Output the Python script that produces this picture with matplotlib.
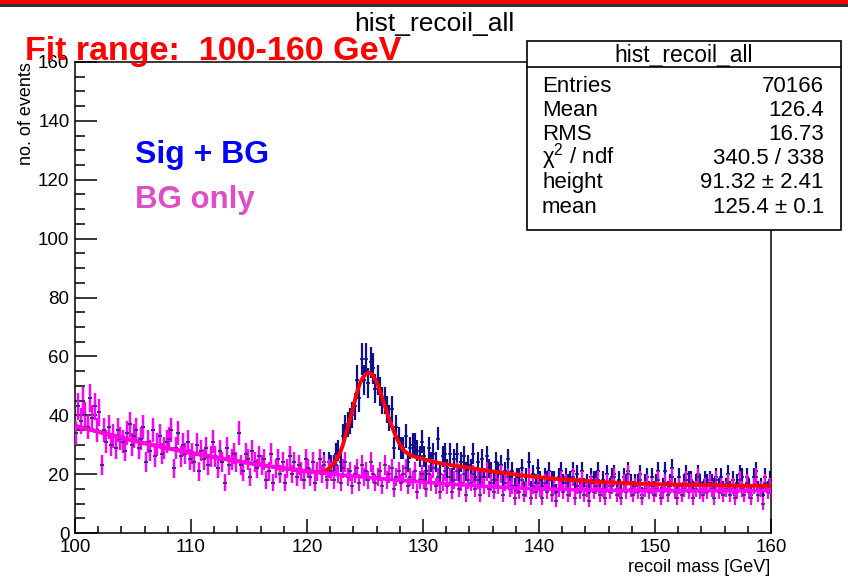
import matplotlib
matplotlib.use("Agg")
import matplotlib.pyplot as plt
from matplotlib.patches import Rectangle
from matplotlib.lines import Line2D
from matplotlib.ticker import MultipleLocator
import numpy as np

plt.rcParams['font.family'] = ['Liberation Sans', 'DejaVu Sans']
plt.rcParams['mathtext.fontset'] = 'custom'
plt.rcParams['mathtext.rm'] = 'Liberation Sans'
plt.rcParams['mathtext.it'] = 'Liberation Sans:italic'

# histogram binning: 300 bins of 0.2 GeV
bin_edges = np.linspace(100, 160, 301)

bg_counts = [
    34, 43, 38, 45, 40, 36, 46, 39, 43, 35,
    41, 23, 35, 31, 36, 30, 33, 29, 35, 32,
    31, 28, 34, 37, 30, 33, 35, 29, 32, 36,
    24, 31, 28, 35, 26, 30, 33, 27, 29, 31,
    32, 35, 22, 29, 34, 26, 30, 27, 31, 25,
    27, 24, 30, 21, 28, 25, 29, 23, 26, 31,
    26, 22, 28, 24, 17, 29, 23, 25, 27, 24,
    34, 23, 21, 27, 25, 19, 28, 24, 22, 26,
    23, 25, 18, 21, 27, 17, 22, 25, 20, 24,
    17, 22, 26, 20, 24, 19, 23, 21, 18, 25,
    22, 19, 24, 17, 21, 25, 20, 23, 18, 22,
    21, 18, 23, 20, 17, 22, 24, 19, 21, 16,
    20, 22, 17, 23, 19, 21, 18, 24, 20, 17,
    19, 21, 16, 23, 18, 20, 22, 15, 19, 21,
    17, 20, 22, 16, 19, 18, 21, 14, 18, 20,
    18, 15, 20, 17, 22, 16, 19, 14, 17, 21,
    16, 19, 14, 18, 21, 15, 17, 20, 13, 18,
    17, 20, 15, 18, 13, 19, 16, 21, 15, 17,
    14, 18, 16, 20, 13, 17, 19, 15, 16, 12,
    16, 14, 18, 13, 15, 19, 12, 16, 14, 17,
    15, 12, 17, 14, 18, 13, 16, 11, 15, 18,
    14, 17, 13, 15, 19, 12, 16, 14, 18, 13,
    15, 11, 17, 14, 16, 18, 13, 15, 12, 17,
    14, 16, 19, 13, 15, 12, 17, 14, 20, 15,
    13, 16, 14, 18, 12, 15, 17, 14, 16, 13,
    15, 18, 12, 14, 17, 13, 16, 19, 14, 12,
    16, 13, 15, 18, 14, 17, 12, 15, 19, 14,
    13, 16, 14, 17, 15, 12, 18, 14, 16, 13,
    15, 17, 13, 16, 12, 14, 18, 15, 13, 17,
    14, 12, 16, 19, 13, 15, 10, 17, 14, 16,
]

# signal excess per bin (dark blue points minus magenta points), 121-160 GeV
sig_excess = [0] * 105 + [
    0, 0, 1, 1, 2,
    2, 5, 4, 8, 7, 11, 12, 18, 17, 24,
    23, 30, 29, 36, 33, 38, 33, 34, 36, 32,
    33, 27, 29, 22, 24, 19, 20, 14, 17, 11,
    12, 9, 11, 8, 10, 12, 9, 14, 8, 11,
    8, 6, 9, 7, 5, 8, 13, 6, 9, 6,
    6, 8, 5, 7, 6, 4, 7, 6, 8, 5,
    5, 7, 4, 6, 5, 6, 3, 5, 7, 4,
    4, 6, 5, 3, 5, 4, 6, 3, 5, 4,
    3, 5, 4, 2, 4, 5, 3, 4, 3, 5,
    3, 4, 2, 4, 3, 5, 2, 3, 4, 3,
    3, 2, 4, 3, 2, 3, 4, 2, 3, 3,
    2, 3, 2, 4, 2, 3, 1, 3, 2, 3,
    2, 3, 1, 2, 3, 2, 2, 3, 1, 2,
    2, 1, 3, 2, 1, 2, 2, 1, 3, 2,
    2, 3, 1, 2, 4, 2, 1, 3, 2, 2,
    3, 1, 2, 2, 4, 1, 3, 2, 1, 3,
    2, 2, 3, 1, 2, 4, 1, 2, 3, 2,
    1, 3, 2, 2, 1, 3, 2, 4, 1, 2,
    2, 1, 3, 2, 2, 1, 3, 2, 1, 2,
]

# weighted histogram: error = err_scale * sqrt(content)
err_scale = 0.7

# background fit (magenta line)
bg_fit_x = [100, 102, 104, 106, 108, 110, 112, 114, 116, 118, 120, 122, 124,
            126, 128, 130, 132, 134, 136, 138, 140, 143, 146, 150, 155, 160]
bg_fit_y = [36.4, 34.4, 32.4, 30.5, 28.8, 27.2, 25.8, 24.4, 23.1, 22.0, 21.0,
            20.1, 19.3, 18.6, 17.9, 17.3, 16.7, 16.2, 15.7, 15.3, 15.0, 14.7,
            14.5, 14.4, 14.4, 14.4]

# signal + background fit (red line)
sb_fit_x = [100, 102, 104, 106, 108, 110, 112, 114, 116, 118, 120, 121.0,
            121.5, 122.0, 122.3, 122.6, 122.84, 123.1, 123.3, 123.5, 123.7,
            123.9, 124.14, 124.35, 124.57, 124.8, 125.0, 125.3, 125.5, 125.72,
            125.95, 126.15, 126.35, 126.58, 126.8, 127.0, 127.22, 127.44,
            127.65, 127.87, 128.1, 128.3, 128.6, 128.88, 129.3, 129.74, 130.5,
            131.47, 132.5, 133.77, 135, 136.06, 137.5, 138.94, 140.1, 141.5,
            143, 145, 147, 148.7, 151, 154, 157, 160]
sb_fit_y = [36.4, 34.4, 32.4, 30.5, 28.8, 27.2, 25.8, 24.4, 23.1, 22.0, 21.0,
            20.6, 20.9, 22.2, 23.7, 25.2, 27.1, 30.0, 32.8, 35.6, 38.4, 41.5,
            45.2, 48.3, 50.9, 52.7, 53.7, 54.5, 54.2, 53.2, 51.7, 49.8, 47.5,
            44.7, 42.1, 39.6, 37.2, 35.0, 32.9, 31.1, 29.5, 28.2, 27.2, 26.5,
            25.9, 25.4, 24.6, 23.7, 23.0, 22.3, 21.5, 20.9, 20.1, 19.4, 18.9,
            18.4, 18.0, 17.4, 17.0, 16.7, 16.5, 16.3, 16.1, 16.0]

stats_rows = [("Entries", "70166"), ("Mean", "126.4"), ("RMS", "16.73"),
              ("\u03c7$^{2}$ / ndf", "340.5 / 338"), ("height", "91.32 \u00b1 2.41"),
              ("mean", "125.4 \u00b1 0.1")]

W, H = 848, 579
fig = plt.figure(figsize=(W / 100, H / 100), dpi=100)


def fx(px):
    return px / W


def fy(py):
    return 1 - py / H


ax = fig.add_axes([fx(75), fy(533), fx(771) - fx(75), fy(62) - fy(533)])

centers = 0.5 * (bin_edges[:-1] + bin_edges[1:])
bg = np.array(bg_counts, dtype=float)
sb = bg + np.array(sig_excess, dtype=float)

ax.errorbar(centers, sb, yerr=err_scale * np.sqrt(sb), fmt='none',
            ecolor='#10108c', elinewidth=1.6, zorder=2)
ax.plot(centers, sb, ls='none', marker='_', ms=3, mew=1.2, color='#10108c', zorder=2.1)
ax.errorbar(centers, bg, yerr=err_scale * np.sqrt(bg), fmt='none',
            ecolor='#ff00ff', elinewidth=1.6, zorder=3)
ax.plot(centers, bg, ls='none', marker='_', ms=3, mew=1.2, color='#303070', zorder=3.1)
ax.plot(sb_fit_x, sb_fit_y, color='#ff0000', lw=2.8, zorder=4)
ax.plot(bg_fit_x, bg_fit_y, color='#ff00ff', lw=2.6, zorder=5)

ax.set_xlim(100, 160)
ax.set_ylim(0, 160)
ax.xaxis.set_major_locator(MultipleLocator(10))
ax.xaxis.set_minor_locator(MultipleLocator(2))
ax.yaxis.set_major_locator(MultipleLocator(20))
ax.yaxis.set_minor_locator(MultipleLocator(5))
ax.tick_params(axis='x', which='major', direction='in', length=10, width=1.1,
               labelsize=13.5, pad=4)
ax.tick_params(axis='x', which='minor', direction='in', length=5, width=1.1)
ax.tick_params(axis='y', which='major', direction='in', length=16, width=1.1,
               labelsize=13.5, pad=4)
ax.tick_params(axis='y', which='minor', direction='in', length=7.5, width=1.1)
for s in ax.spines.values():
    s.set_linewidth(1.1)

fig.text(fx(27), fy(62), "no. of events", rotation=90, ha='center', va='top',
         fontsize=13)
fig.text(fx(770), fy(572), "recoil mass [GeV]", ha='right', va='baseline',
         fontsize=13)
fig.text(fx(434), fy(31), "hist_recoil_all", ha='center', va='baseline',
         fontsize=19)

# slide decoration at the very top
fig.add_artist(Rectangle((0, fy(4)), 1, fy(0) - fy(4), transform=fig.transFigure,
                         facecolor='#ff0000', edgecolor='none'))
fig.add_artist(Rectangle((0, fy(7)), 1, fy(4) - fy(7), transform=fig.transFigure,
                         facecolor='#333333', edgecolor='none'))

# stats box
fig.add_artist(Rectangle((fx(527), fy(230)), fx(841) - fx(527), fy(41) - fy(230),
                         transform=fig.transFigure, facecolor='white',
                         edgecolor='black', linewidth=1.2, zorder=10))
fig.add_artist(Line2D([fx(527), fx(841)], [fy(67), fy(67)], transform=fig.transFigure,
                      color='black', linewidth=1.2, zorder=11))
fig.text(fx(684), fy(62), "hist_recoil_all", ha='center', va='baseline',
         fontsize=16.5, zorder=12)
row_y = [92, 116, 140, 164, 188, 213]
for (lab, val), yy in zip(stats_rows, row_y):
    fig.text(fx(542), fy(yy), lab, ha='left', va='baseline', fontsize=16, zorder=12)
    fig.text(fx(824), fy(yy), val, ha='right', va='baseline', fontsize=16, zorder=12)

fig.text(fx(25), fy(60), "Fit range:  100-160 GeV", ha='left', va='baseline',
         fontsize=24.5, fontweight='bold', color='#ff0000', zorder=12)
fig.text(fx(135), fy(163), "Sig + BG", ha='left', va='baseline',
         fontsize=23, fontweight='bold', color='#0000ff')
fig.text(fx(135), fy(208), "BG only", ha='left', va='baseline',
         fontsize=22.5, fontweight='bold', color='#dd4fc6')

fig.savefig("out.png", dpi=100)
